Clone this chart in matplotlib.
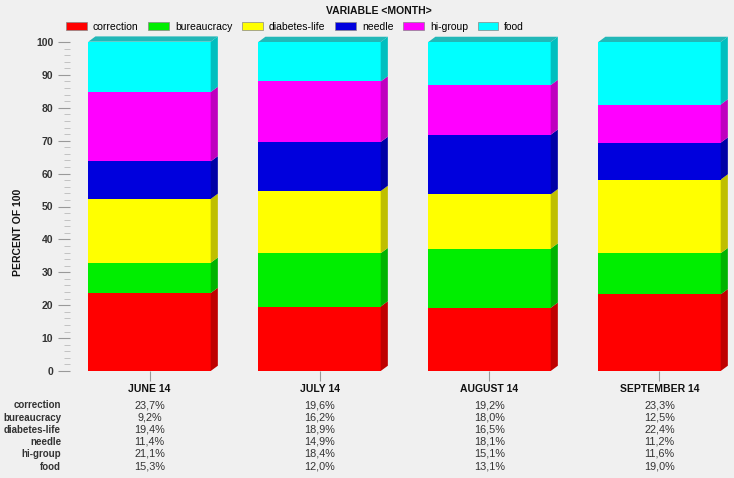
import matplotlib.pyplot as plt
from matplotlib.patches import Polygon, Patch
from matplotlib.ticker import MultipleLocator
from matplotlib.colors import to_rgb
import matplotlib.transforms as mtransforms

plt.rcParams['font.family'] = ['Liberation Sans', 'DejaVu Sans']

months = ['JUNE 14', 'JULY 14', 'AUGUST 14', 'SEPTEMBER 14']
series = ['correction', 'bureaucracy', 'diabetes-life', 'needle', 'hi-group', 'food']
correction = [23.7, 19.6, 19.2, 23.3]
bureaucracy = [9.2, 16.2, 18.0, 12.5]
diabetes_life = [19.4, 18.9, 16.5, 22.4]
needle = [11.4, 14.9, 18.1, 11.2]
hi_group = [21.1, 18.4, 15.1, 11.6]
food = [15.3, 12.0, 13.1, 19.0]
values = [correction, bureaucracy, diabetes_life, needle, hi_group, food]
colors = ['#ff0000', '#00ee00', '#ffff00', '#0000dd', '#ff00ff', '#00ffff']


def darker(c, f=0.78):
    r, g, b = to_rgb(c)
    return (r * f, g * f, b * f)


fig = plt.figure(figsize=(7.34, 4.78), dpi=100)
fig.patch.set_facecolor('#f0f0f0')
ax = fig.add_axes([70 / 734, 107 / 478, 660 / 734, 329 / 478])
ax.set_facecolor('none')

W = 0.72
dx = 0.042
dy = 1.6
x = list(range(len(months)))
bottoms = [0.0] * len(months)
for vals, col in zip(values, colors):
    ax.bar(x, vals, width=W, bottom=bottoms, color=col, edgecolor='none', zorder=2)
    for i in x:
        y0 = bottoms[i]
        y1 = y0 + vals[i]
        xr = i + W / 2
        side = Polygon([(xr, y0), (xr + dx, y0 + dy), (xr + dx, y1 + dy), (xr, y1)],
                       closed=True, facecolor=darker(col, 0.75), edgecolor='none',
                       clip_on=False, zorder=2)
        ax.add_patch(side)
    bottoms = [b + v for b, v in zip(bottoms, vals)]

for i in x:
    xl = i - W / 2
    xr = i + W / 2
    top = bottoms[i]
    ax.add_patch(Polygon([(xl, top), (xl + dx, top + dy), (xr + dx, top + dy), (xr, top)],
                         closed=True, facecolor='#22b8b8', edgecolor='none',
                         clip_on=False, zorder=3))

ax.set_xlim((70 - 149.5) / 170, (730 - 149.5) / 170)
ax.set_ylim(0, 100)
for s in ax.spines.values():
    s.set_visible(False)

ax.yaxis.set_major_locator(MultipleLocator(10))
ax.yaxis.set_minor_locator(MultipleLocator(2))
ax.tick_params(axis='y', which='major', length=9, color='#999999', labelsize=7.5,
               labelcolor='#333333', pad=3)
ax.tick_params(axis='y', which='minor', length=4, color='#bbbbbb')
for lab in ax.get_yticklabels():
    lab.set_fontweight('bold')

ax.set_xticks(x)
ax.set_xticklabels(months, fontsize=7.5, fontweight='bold', color='#111111')
ax.tick_params(axis='x', length=7, color='#999999', pad=2)

fig.text(18 / 734, 1 - 232 / 478, 'PERCENT OF 100', rotation=90, ha='center', va='center',
         fontsize=7.5, fontweight='bold', color='#111111')
fig.text(379 / 734, 1 - 11 / 478, 'VARIABLE <MONTH>', ha='center', va='center',
         fontsize=7.5, fontweight='bold', color='#111111')

handles = [Patch(facecolor=c, edgecolor='#888888', linewidth=0.5) for c in colors]
fig.legend(handles, series, loc='center left', bbox_to_anchor=(57 / 734, 1 - 27 / 478),
           ncol=6, frameon=False, handlelength=2.0, handleheight=0.8,
           handletextpad=0.55, columnspacing=0.95, fontsize=7.5)

trans = mtransforms.blended_transform_factory(ax.transData, fig.transFigure)
row_y = [405, 418, 430, 442, 454, 466.5]
for name, vals, py in zip(series, values, row_y):
    fy = 1 - py / 478
    fig.text(61 / 734, fy, name, ha='right', va='center', fontsize=7.0,
             fontweight='bold', color='#333333')
    for i, v in zip(x, vals):
        ax.text(i, fy, ('%.1f%%' % v).replace('.', ','), transform=trans,
                ha='center', va='center', fontsize=7.8, color='#333333')

fig.savefig('out.png', dpi=100, facecolor=fig.get_facecolor())
